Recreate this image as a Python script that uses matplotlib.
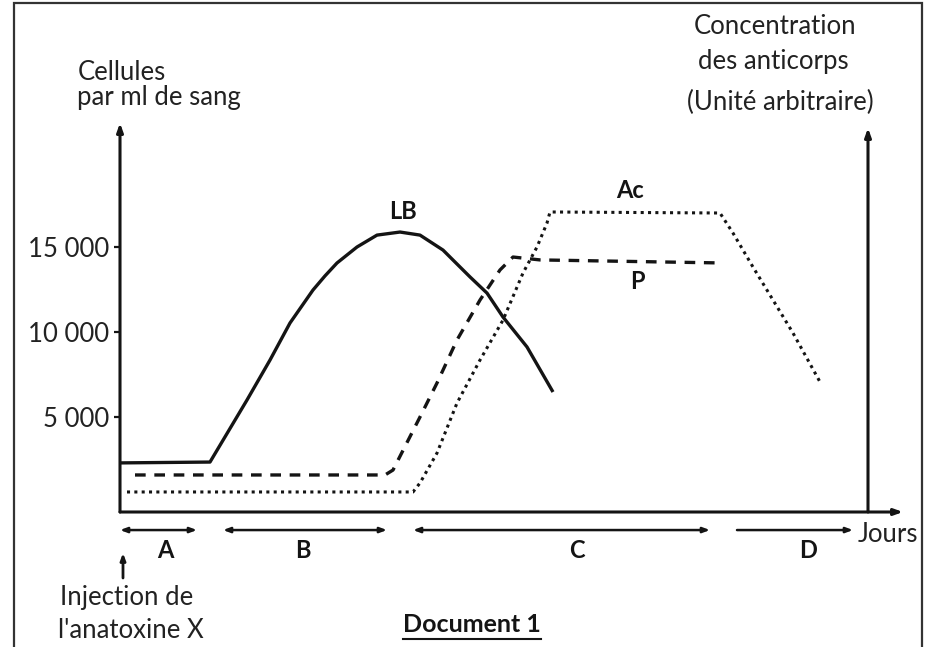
import matplotlib
matplotlib.use("Agg")
import matplotlib.pyplot as plt
from matplotlib.patches import Rectangle
from matplotlib.lines import Line2D

lb_x = [0, 9.0, 12.7, 15.0, 17.0, 19.3, 20.5, 21.7, 23.7, 25.7, 28.0, 30.0, 32.3, 33.7, 35.0, 36.7, 38.3, 40.7, 43.3]
lb_y = [2300, 2350, 6000, 8350, 10530, 12470, 13300, 14060, 15000, 15700, 15880, 15700, 14820, 14000, 13240, 12290, 10880, 9120, 6470]

p_x = [1.5, 26.5, 27.3, 30.0, 31.7, 33.7, 36.0, 38.0, 39.3, 42.0, 60.3]
p_y = [1590, 1590, 1880, 5000, 7000, 9530, 11880, 13650, 14410, 14240, 14060]

ac_x = [0.7, 29.3, 30.0, 31.7, 33.7, 36.0, 38.3, 40.3, 41.7, 42.7, 43.0, 60.0, 61.3, 63.3, 65.3, 67.3, 70.0]
ac_y = [590, 590, 1120, 2880, 5820, 8350, 10700, 13470, 15000, 16410, 17060, 17000, 15820, 13820, 11880, 9940, 7060]

y_ticks = [5000, 10000, 15000]
y_tick_labels = ["5 000", "10 000", "15 000"]

# phases A-D : (début, fin, étiquette)
phases = [(0, 7.7, "A"), (10.3, 26.7, "B"), (29.3, 59.0, "C"), (61.7, 73.3, "D")]
phase_label_x = [4.5, 18.3, 45.7, 68.8]

W, H = 939, 647
FONT = "Lato"
INK = "#141414"


def fpos(px, py):
    return px / W, 1 - py / H


fig = plt.figure(figsize=(W / 100, H / 100), dpi=100)
fig.patch.set_facecolor("white")

# cadre du document
fig.add_artist(Rectangle((14 / W, -0.05), (922 - 14) / W, 1.05 - 3 / H,
                         transform=fig.transFigure, fill=False,
                         edgecolor="#333333", linewidth=1.6))

ax = fig.add_axes([120 / W, (H - 512) / H, (868 - 120) / W, (512 - 123) / H])
x_right = 74.8
y_bottom, y_top = -588, 22294
ax.set_xlim(0, x_right)
ax.set_ylim(y_bottom, y_top)
for s in ax.spines.values():
    s.set_visible(False)
ax.set_xticks([])
ax.set_yticks(y_ticks)
ax.set_yticklabels(y_tick_labels, fontsize=18.5, family=FONT, color="#222222")
ax.tick_params(axis="y", direction="out", length=4, width=1.6, pad=4, color=INK)

arrow_kw = dict(arrowstyle="-|>,head_length=0.5,head_width=0.18", color=INK, lw=2.2,
                shrinkA=0, shrinkB=0)
# axes dessinés à la main avec flèches
ax.annotate("", xy=(0, y_top), xytext=(0, y_bottom), arrowprops=arrow_kw, annotation_clip=False)
ax.annotate("", xy=(x_right, 22000), xytext=(x_right, y_bottom), arrowprops=arrow_kw,
            annotation_clip=False)
ax.annotate("", xy=(78.3, y_bottom), xytext=(0, y_bottom), arrowprops=arrow_kw,
            annotation_clip=False)

# courbes
ax.plot(lb_x, lb_y, color=INK, lw=2.4, solid_capstyle="butt", solid_joinstyle="round")
ax.plot(p_x, p_y, color=INK, lw=2.4, linestyle=(0, (3.2, 2.6)))
ax.plot(ac_x, ac_y, color=INK, lw=2.2, linestyle=(0, (1, 1.4)))

ax.text(28.3, 17060, "LB", fontsize=17, fontweight="bold", family=FONT,
        ha="center", va="center", color=INK)
ax.text(51.0, 18350, "Ac", fontsize=17, fontweight="bold", family=FONT,
        ha="center", va="center", color=INK)
ax.text(51.7, 13000, "P", fontsize=17, fontweight="bold", family=FONT,
        ha="center", va="center", color=INK)

# phases sous l'axe des abscisses
y_ph = -1650
for (x0, x1, lab), lx in zip(phases, phase_label_x):
    style = "<|-" if lab == "D" else "<|-|>"
    ax.annotate("", xy=(x0, y_ph), xytext=(x1, y_ph), annotation_clip=False,
                arrowprops=dict(arrowstyle=style + ",head_length=0.4,head_width=0.15",
                                color=INK, lw=1.8, shrinkA=0, shrinkB=0))
    ax.text(lx, -2850, lab, fontsize=17, fontweight="bold", family=FONT,
            ha="center", va="center", color=INK, clip_on=False)

# injection
ax.annotate("", xy=(0.3, -3000), xytext=(0.3, -4470), annotation_clip=False,
            arrowprops=dict(arrowstyle="-|>,head_length=0.4,head_width=0.15",
                            color=INK, lw=2.0, shrinkA=0, shrinkB=0))

# textes
txt = dict(family=FONT, color="#222222", fontsize=18.5)
fig.text(*fpos(78, 72), "Cellules", ha="left", va="center", **txt)
fig.text(*fpos(77, 98), "par ml de sang", ha="left", va="center", **txt)
fig.text(*fpos(775, 27), "Concentration", ha="center", va="center", **txt)
fig.text(*fpos(773, 61), "des anticorps", ha="center", va="center", **txt)
fig.text(*fpos(780, 102), "(Unité arbitraire)", ha="center", va="center", **txt)
fig.text(*fpos(858, 534), "Jours", ha="left", va="center", **txt)
fig.text(*fpos(60, 598), "Injection de", ha="left", va="center", **txt)
fig.text(*fpos(58, 631), "l'anatoxine X", ha="left", va="center", **txt)

doc = fig.text(*fpos(472, 625), "Document 1", ha="center", va="center",
               family=FONT, fontsize=18, fontweight="bold", color=INK)

# soulignement de "Document 1"
fig.canvas.draw()
bb = doc.get_window_extent().transformed(fig.transFigure.inverted())
fig.add_artist(Line2D([bb.x0, bb.x1], [bb.y0 - 2 / H, bb.y0 - 2 / H],
                      transform=fig.transFigure, color=INK, lw=1.5))

fig.savefig("out.png", dpi=100)
